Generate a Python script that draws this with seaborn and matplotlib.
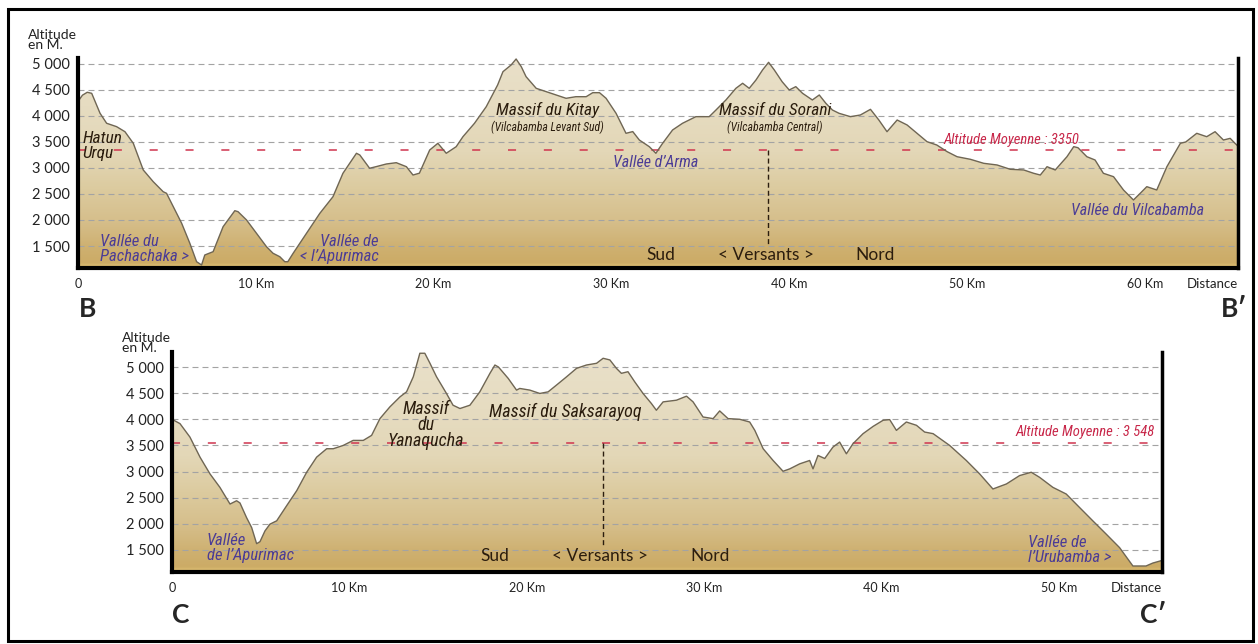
import numpy as np
import matplotlib
matplotlib.use('Agg')
import matplotlib.pyplot as plt
import matplotlib.font_manager as fm
from matplotlib.colors import LinearSegmentedColormap
from matplotlib.patches import Rectangle
import seaborn as sns

# --- profile B-B' (distance in km, altitude in m) ---
top_km = [0, 0.25, 0.52, 0.77, 1.24, 1.61, 2.17, 2.64, 3.11, 3.67,
          4.23, 4.79, 4.98, 5.36, 5.83, 6.29, 6.67, 6.95, 7.13, 7.6,
          8.16, 8.82, 9.0, 9.48, 10.04, 10.6, 10.97, 11.35, 11.63, 11.8,
          12.1, 12.85, 13.6, 14.34, 14.9, 15.66, 15.85, 16.4, 16.78, 17.34,
          17.9, 18.47, 18.84, 19.2, 19.78, 20.24, 20.71, 21.27, 21.65, 22.3,
          22.96, 23.6, 23.9, 24.36, 24.64, 24.93, 25.2, 25.77, 26.33, 26.9,
          27.45, 28.0, 28.58, 28.95, 29.33, 29.7, 30.26, 30.82, 31.2, 31.57,
          32.13, 32.5, 32.88, 33.44, 34.0, 34.75, 35.5, 35.88, 36.44, 37.0,
          37.38, 37.75, 38.13, 38.5, 38.84, 39.16, 39.6, 40.0, 40.37, 40.75,
          41.3, 41.69, 42.06, 42.43, 42.8, 43.44, 44.0, 44.57, 45.04, 45.5,
          46.07, 46.63, 47.19, 47.75, 48.3, 48.88, 49.44, 50.19, 50.94, 51.69,
          52.43, 53.19, 53.75, 54.12, 54.5, 54.96, 55.62, 56.0, 56.24, 56.74,
          57.2, 57.67, 58.24, 58.8, 59.36, 59.74, 60.11, 60.67, 61.24, 62.0,
          62.3, 62.92, 63.48, 63.95, 64.42, 64.8, 65.07, 65.24]
top_alt = [4280, 4400, 4456, 4436, 4052, 3860, 3795, 3698, 3475, 2962,
           2737, 2544, 2513, 2256, 1937, 1552, 1198, 1135, 1327, 1391,
           1871, 2179, 2160, 2000, 1744, 1487, 1360, 1294, 1198, 1198,
           1360, 1744, 2128, 2448, 2898, 3283, 3250, 2995, 3027, 3077,
           3102, 3025, 2865, 2900, 3346, 3475, 3283, 3410, 3602, 3860,
           4179, 4596, 4852, 4981, 5096, 4948, 4756, 4532, 4468, 4404,
           4340, 4371, 4371, 4448, 4448, 4340, 4052, 3667, 3700, 3538,
           3410, 3283, 3475, 3731, 3860, 3987, 3987, 4115, 4308, 4532,
           4629, 4532, 4692, 4885, 5032, 4885, 4660, 4500, 4564, 4436,
           4308, 4404, 4244, 4115, 4052, 3987, 4019, 4128, 3923, 3698,
           3923, 3827, 3667, 3506, 3442, 3314, 3217, 3167, 3090, 3058,
           2975, 2962, 2898, 2865, 3025, 2962, 3217, 3410, 3390, 3217,
           3154, 2898, 2833, 2577, 2385, 2513, 2641, 2577, 3025, 3475,
           3500, 3667, 3602, 3698, 3538, 3570, 3475, 3420]
top_mean = 3350

# --- profile C-C' ---
bot_km = [0, 0.45, 1.01, 1.58, 2.14, 2.7, 3.27, 3.64, 3.83, 4.2,
          4.49, 4.77, 4.96, 5.24, 5.52, 5.9, 6.46, 7.03, 7.59, 8.15,
          8.72, 9.09, 9.65, 10.21, 10.78, 11.25, 11.72, 12.28, 12.85, 13.22,
          13.6, 13.97, 14.25, 14.54, 14.91, 15.47, 15.84, 16.23, 16.79, 17.35,
          17.92, 18.2, 18.4, 18.95, 19.42, 19.6, 20.17, 20.73, 21.2, 21.67,
          22.24, 22.8, 23.36, 23.93, 24.3, 24.68, 25.05, 25.33, 25.7, 26.08,
          26.55, 27.02, 27.3, 27.68, 28.43, 29.0, 29.37, 29.93, 30.5, 30.87,
          31.34, 32.0, 32.56, 32.85, 33.32, 33.88, 34.44, 34.82, 35.38, 35.94,
          36.13, 36.41, 36.79, 37.25, 37.63, 38.01, 38.38, 38.95, 39.52, 40.08,
          40.45, 40.83, 41.39, 41.96, 42.42, 42.9, 43.83, 44.77, 45.52, 46.27,
          47.03, 47.77, 48.43, 48.9, 49.65, 50.4, 51.15, 51.9, 52.66, 53.41,
          54.16, 54.9, 55.28, 55.8]
bot_alt = [4000, 3917, 3660, 3275, 2956, 2698, 2379, 2442, 2400, 2121,
           1929, 1621, 1660, 1865, 1994, 2058, 2346, 2635, 2987, 3275,
           3437, 3437, 3500, 3596, 3596, 3692, 4013, 4237, 4429, 4525,
           4813, 5263, 5263, 5071, 4813, 4494, 4269, 4206, 4269, 4525,
           4879, 5038, 5000, 4782, 4558, 4590, 4558, 4494, 4525, 4654,
           4813, 4974, 5038, 5071, 5167, 5135, 4974, 4879, 4910, 4717,
           4494, 4302, 4173, 4333, 4365, 4442, 4333, 4044, 4013, 4160,
           4013, 4000, 3948, 3788, 3437, 3212, 3006, 3052, 3148, 3212,
           3052, 3308, 3250, 3467, 3564, 3340, 3532, 3725, 3865, 3981,
           3994, 3788, 3948, 3885, 3756, 3725, 3500, 3212, 2956, 2667,
           2763, 2923, 2987, 2890, 2698, 2571, 2314, 2058, 1802, 1545,
           1194, 1194, 1250, 1300]
bot_mean = 3548

alt_ticks = [1500, 2000, 2500, 3000, 3500, 4000, 4500, 5000]
alt_labels = ['1 500', '2 000', '2 500', '3 000', '3 500', '4 000', '4 500', '5 000']
top_dist_ticks = [0, 10, 20, 30, 40, 50, 60]
bot_dist_ticks = [0, 10, 20, 30, 40, 50]

sns.set_style('white')
names = {f.name for f in fm.fontManager.ttflist}
MAIN = 'Lato' if 'Lato' in names else 'DejaVu Sans'
NARROW = next((n for n in ['Liberation Sans Narrow', 'Roboto Condensed', 'Open Sans Condensed']
               if n in names), MAIN)
plt.rcParams['font.family'] = [MAIN, 'DejaVu Sans']
plt.rcParams['lines.scale_dashes'] = False

DARK = '#2b1d0e'
PURPLE = '#4b3c96'
CRIMSON = '#c8284a'
W, H = 1258, 644

fig = plt.figure(figsize=(W / 100, H / 100), dpi=100)
fig.patch.set_facecolor('white')
fig.patches.append(Rectangle((8 / W, 1 - 641 / H), 1245 / W, 632 / H, transform=fig.transFigure,
                             fill=False, edgecolor='black', lw=2.2, zorder=0))


def px_axes(left, top, right, bottom):
    return fig.add_axes([left / W, 1 - bottom / H, (right - left) / W, (bottom - top) / H])


def draw_profile(ax, km, alt, mean, ybot, ytop, xmax, ticks):
    km = np.asarray(km, float)
    alt = np.asarray(alt, float)
    # gradient fill clipped to the terrain polygon
    stops = [(ybot, '#e2c476'), (ybot + 90, '#ccab66'), (1450, '#ceb070'), (2000, '#d6bf8c'),
             (2600, '#dccb9f'), (3300, '#e3d7b7'), (4200, '#e6dcc1'), (ytop, '#e9e0c9')]
    cmap = LinearSegmentedColormap.from_list(
        'terrain_fill', [((a - ybot) / (ytop - ybot), c) for a, c in stops])
    poly = ax.fill_between(km, alt, ybot, facecolor='none', edgecolor='none')
    grad = np.linspace(1, 0, 400).reshape(-1, 1)
    im = ax.imshow(grad, extent=[0, xmax, ybot, ytop], aspect='auto', cmap=cmap,
                   vmin=0, vmax=1, origin='upper', zorder=1, interpolation='bilinear')
    im.set_clip_path(poly.get_paths()[0], transform=ax.transData)
    sns.lineplot(x=km, y=alt, ax=ax, color='#6f6654', lw=1.0, sort=False,
                 estimator=None, zorder=3)
    for y in alt_ticks:
        ax.axhline(y, color='#a3a3a3', lw=0.8, dashes=(4.3, 2.9), zorder=2)
    ax.axhline(mean, color='#d0344e', lw=1.1, dashes=(5.8, 20), zorder=2.5)
    ax.set_xlim(0, xmax)
    ax.set_ylim(ybot, ytop)
    ax.set_yticks(alt_ticks)
    ax.set_yticklabels(alt_labels)
    ax.set_xticks(ticks)
    ax.set_xticklabels(['0'] + [f'{t} Km' for t in ticks[1:]])
    ax.tick_params(axis='y', direction='out', length=5, width=1.5, labelsize=10.5,
                   pad=1, colors='black', labelcolor='#222222')
    ax.tick_params(axis='x', direction='inout', length=6, width=1, labelsize=9,
                   pad=4, labelcolor='#222222')
    ax.set_xlabel('')
    ax.set_ylabel('')
    ax.spines['top'].set_visible(False)
    for s, lw in [('left', 3), ('bottom', 3), ('right', 2.5)]:
        ax.spines[s].set_linewidth(lw)
        ax.spines[s].set_color('black')
        ax.spines[s].set_zorder(5)
    ax.set_facecolor('none')
    ax.text(1.0, -0.075, 'Distance', transform=ax.transAxes, ha='right', va='center',
            fontsize=9.5, color='#222222')


def note(ax, x, y, s, color, size, ha='center', ma=None, ls=0.95):
    ax.text(x, y, s, color=color, fontsize=size, style='italic', family=[NARROW, 'DejaVu Sans'],
            ha=ha, va='center', multialignment=ma or ha, linespacing=ls, zorder=4)


def slope_labels(ax, x_sud, x_vers, x_nord, y):
    for x, s in [(x_sud, 'Sud'), (x_vers, '< Versants >'), (x_nord, 'Nord')]:
        ax.text(x, y, s, color=DARK, fontsize=12.5, ha='center', va='center', zorder=4)


# ---------------- B - B' ----------------
ax1 = px_axes(78, 58, 1238, 268)
draw_profile(ax1, top_km, top_alt, top_mean, 1077, 5115, 65.24, top_dist_ticks)
note(ax1, 0.25, 3420, 'Hatun\nUrqu', DARK, 12.5, ha='left')
note(ax1, 1.25, 1440, 'Vallée du\nPachachaka >', PURPLE, 12, ha='left')
note(ax1, 16.9, 1440, 'Vallée de\n< l\u2019Apurimac', PURPLE, 12, ha='right')
note(ax1, 26.4, 4115, 'Massif du Kitay', DARK, 12.5)
note(ax1, 26.4, 3790, '(Vilcabamba Levant Sud)', DARK, 8.5)
note(ax1, 39.2, 4115, 'Massif du Sorani', DARK, 12.5)
note(ax1, 39.2, 3790, '(Vilcabamba Central)', DARK, 8.5)
note(ax1, 32.5, 3100, 'Vallée d\u2019Arma', PURPLE, 11.5)
note(ax1, 48.7, 3540, 'Altitude Moyenne : 3350', CRIMSON, 10.5, ha='left')
note(ax1, 59.6, 2175, 'Vallée du Vilcabamba', PURPLE, 11.5)
ax1.plot([38.8, 38.8], [top_mean, 1520], color=DARK, lw=1, dashes=(3.6, 2.2), zorder=2.6)
slope_labels(ax1, 32.8, 38.7, 44.8, 1330)

# ---------------- C - C' ----------------
ax2 = px_axes(172, 352, 1162, 572)
draw_profile(ax2, bot_km, bot_alt, bot_mean, 1079, 5287, 55.8, bot_dist_ticks)
note(ax2, 14.3, 3890, 'Massif\ndu\nYanaqucha', DARK, 13, ls=0.88)
note(ax2, 22.15, 4140, 'Massif du Saksarayoq', DARK, 13)
note(ax2, 55.4, 3760, 'Altitude Moyenne : 3 548', CRIMSON, 10.5, ha='right')
note(ax2, 1.95, 1540, 'Vallée\nde l\u2019Apurimac', PURPLE, 12, ha='left')
note(ax2, 48.25, 1500, 'Vallée de\nl\u2019Urubamba >', PURPLE, 12, ha='left')
ax2.plot([24.3, 24.3], [bot_mean, 1600], color=DARK, lw=1, dashes=(3.6, 2.2), zorder=2.6)
slope_labels(ax2, 18.2, 24.1, 30.3, 1385)

# ---------------- outside labels ----------------
def ftext(px, py, s, **kw):
    fig.text(px / W, 1 - py / H, s, **kw)


ftext(28, 40, 'Altitude\nen M.', fontsize=10, ha='left', va='center', linespacing=0.85, color='#222222')
ftext(122, 343, 'Altitude\nen M.', fontsize=10, ha='left', va='center', linespacing=0.85, color='#222222')
ftext(88, 309, 'B', fontsize=19, fontweight='bold', ha='center', va='center')
ftext(1247, 309, 'B\u2032', fontsize=19, fontweight='bold', ha='right', va='center')
ftext(181, 615, 'C', fontsize=19, fontweight='bold', ha='center', va='center')
ftext(1166, 615, 'C\u2032', fontsize=19, fontweight='bold', ha='right', va='center')

fig.savefig('out.png', dpi=100)
